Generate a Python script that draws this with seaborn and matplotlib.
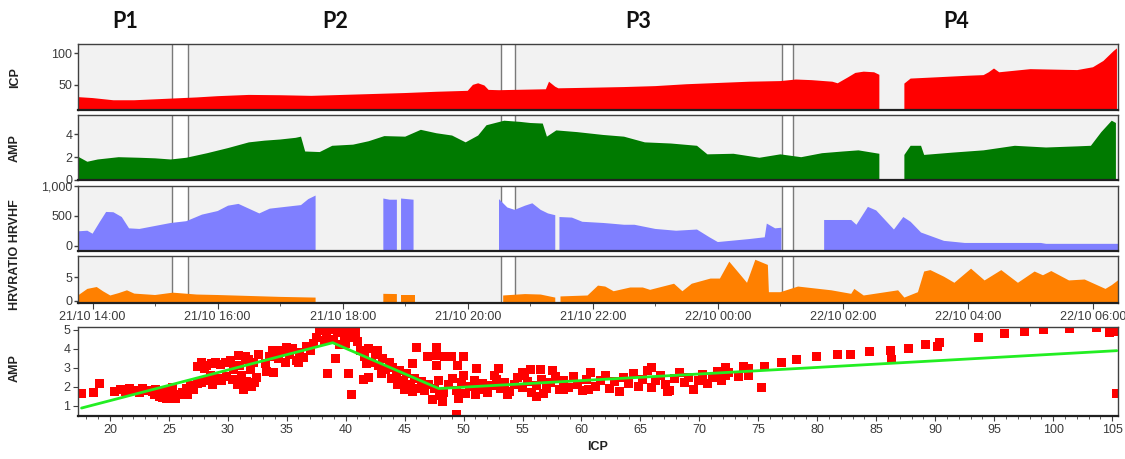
import matplotlib
matplotlib.use("Agg")
import matplotlib.pyplot as plt
import matplotlib.dates as mdates
import matplotlib.transforms as mtransforms
from matplotlib.ticker import FuncFormatter, MultipleLocator
import seaborn as sns
import numpy as np
import pandas as pd

# ---- period labels and marker pairs (time of day, dd/mm HH:MM) ----
period_names = ["P1", "P2", "P3", "P4"]
period_at = ["21/10 14:31", "21/10 17:53", "21/10 22:44", "22/10 03:49"]
mark_start = ["21/10 15:16", "21/10 20:32", "22/10 01:02"]
mark_end = ["21/10 15:32", "21/10 20:45", "22/10 01:12"]
time_range = ["21/10 13:46", "22/10 06:24"]

# ---- ICP ----
icp_time = ["21/10 13:46", "21/10 14:00", "21/10 14:20", "21/10 14:40", "21/10 15:00", "21/10 15:20",
            "21/10 15:40", "21/10 16:00", "21/10 16:30", "21/10 17:00", "21/10 17:30", "21/10 18:00",
            "21/10 18:30", "21/10 19:00", "21/10 19:30", "21/10 20:00", "21/10 20:05", "21/10 20:10",
            "21/10 20:16", "21/10 20:20", "21/10 20:30", "21/10 21:00", "21/10 21:15", "21/10 21:18",
            "21/10 21:24", "21/10 21:27", "21/10 22:00", "21/10 22:30", "21/10 23:00", "21/10 23:30",
            "22/10 00:00", "22/10 00:30", "22/10 01:00", "22/10 01:15", "22/10 01:30", "22/10 01:50",
            "22/10 01:55", "22/10 02:05", "22/10 02:12", "22/10 02:20", "22/10 02:30", "22/10 02:35",
            "22/10 02:36", "22/10 02:58", "22/10 02:59", "22/10 03:05", "22/10 03:30", "22/10 04:00",
            "22/10 04:15", "22/10 04:20", "22/10 04:25", "22/10 04:30", "22/10 05:00", "22/10 05:30",
            "22/10 05:45", "22/10 06:00", "22/10 06:10", "22/10 06:20", "22/10 06:23"]
icp_vals = [30.5, 29, 25.5, 25.5, 27, 28.5, 30, 32, 34, 33.5, 32.5, 34, 35.5, 37, 39, 40.5, 50, 52.5,
            49, 42, 41.5, 42.5, 43, 55, 47, 44.5, 45.5, 46.5, 48, 51, 53, 55, 56, 58.5, 57.5, 55,
            52.5, 62, 69, 71, 70, 66, None, None, 52, 60, 62, 64.5, 65.5, 70, 76, 70, 75, 74,
            73.5, 78, 88, 104, 108]

# ---- AMP ----
amp_time = ["21/10 13:46", "21/10 13:55", "21/10 14:05", "21/10 14:25", "21/10 14:45", "21/10 15:00",
            "21/10 15:15", "21/10 15:30", "21/10 15:50", "21/10 16:10", "21/10 16:30", "21/10 16:45",
            "21/10 17:00", "21/10 17:15", "21/10 17:20", "21/10 17:24", "21/10 17:38", "21/10 17:50",
            "21/10 18:10", "21/10 18:25", "21/10 18:40", "21/10 19:00", "21/10 19:15", "21/10 19:30",
            "21/10 19:45", "21/10 19:58", "21/10 20:10", "21/10 20:18", "21/10 20:35", "21/10 20:50",
            "21/10 21:00", "21/10 21:12", "21/10 21:16", "21/10 21:25", "21/10 21:45", "21/10 22:10",
            "21/10 22:30", "21/10 22:50", "21/10 23:15", "21/10 23:40", "21/10 23:50", "22/10 00:15",
            "22/10 00:40", "22/10 01:00", "22/10 01:20", "22/10 01:40", "22/10 02:00", "22/10 02:15",
            "22/10 02:35", "22/10 02:36", "22/10 02:58", "22/10 02:59", "22/10 03:05", "22/10 03:15",
            "22/10 03:18", "22/10 03:45", "22/10 04:15", "22/10 04:45", "22/10 05:15", "22/10 05:45",
            "22/10 05:58", "22/10 06:08", "22/10 06:18", "22/10 06:22"]
amp_vals = [2.05, 1.6, 1.8, 2.0, 1.95, 1.9, 1.8, 1.95, 2.35, 2.8, 3.3, 3.45, 3.55, 3.7, 3.8, 2.5,
            2.45, 3.0, 3.1, 3.4, 3.85, 3.8, 4.4, 4.1, 3.9, 3.3, 3.9, 4.8, 5.2, 5.1, 5.0, 4.95, 3.8,
            4.35, 4.2, 3.95, 3.8, 3.3, 3.2, 3.0, 2.25, 2.3, 1.95, 2.25, 2.0, 2.35, 2.5, 2.6, 2.3,
            None, None, 2.2, 3.0, 3.0, 2.2, 2.4, 2.6, 3.0, 2.85, 2.95, 3.0, 4.2, 5.2, 5.0]

# ---- HRVHF ----
hf_time = ["21/10 13:46", "21/10 13:55", "21/10 14:00", "21/10 14:07", "21/10 14:13", "21/10 14:20",
           "21/10 14:28", "21/10 14:35", "21/10 14:45", "21/10 15:00", "21/10 15:15", "21/10 15:30",
           "21/10 15:45", "21/10 16:00", "21/10 16:10", "21/10 16:20", "21/10 16:30", "21/10 16:40",
           "21/10 16:50", "21/10 17:05", "21/10 17:20", "21/10 17:27", "21/10 17:34", "21/10 18:00",
           "21/10 18:39", "21/10 18:45", "21/10 18:52", "21/10 18:54", "21/10 18:56", "21/10 19:08",
           "21/10 19:50", "21/10 20:30", "21/10 20:38", "21/10 20:45", "21/10 20:55", "21/10 21:02",
           "21/10 21:10", "21/10 21:17", "21/10 21:24", "21/10 21:26", "21/10 21:28", "21/10 21:40",
           "21/10 21:50", "21/10 22:10", "21/10 22:17", "21/10 22:30", "21/10 22:40", "21/10 23:00",
           "21/10 23:20", "21/10 23:40", "21/10 23:52", "22/10 00:00", "22/10 00:30", "22/10 00:45",
           "22/10 00:47", "22/10 00:55", "22/10 01:01", "22/10 01:20", "22/10 01:42", "22/10 02:08",
           "22/10 02:13", "22/10 02:24", "22/10 02:32", "22/10 02:49", "22/10 02:58", "22/10 03:05",
           "22/10 03:15", "22/10 03:37", "22/10 03:57", "22/10 05:10", "22/10 05:15", "22/10 06:24"]
hf_vals = [240, 250, 200, 400, 565, 560, 480, 290, 280, 330, 380, 410, 520, 580, 670, 700, 620, 540,
           620, 650, 680, 780, 840, None, 790, 770, 770, None, 790, 770, None, 780, 640, 600, 670, 710,
           600, 540, 510, None, 480, 470, 400, 380, 370, 350, 350, 280, 250, 270, 140, 60, 110, 140,
           370, 290, 300, None, 430, 430, 350, 650, 590, 270, 480, 400, 220, 80, 45, 45, 30, 30]

# ---- HRVRATIO ----
ratio_time = ["21/10 13:46", "21/10 13:55", "21/10 14:04", "21/10 14:10", "21/10 14:17", "21/10 14:25",
              "21/10 14:33", "21/10 14:40", "21/10 15:00", "21/10 15:17", "21/10 15:40", "21/10 16:00",
              "21/10 16:30", "21/10 17:00", "21/10 17:34", "21/10 18:00", "21/10 18:39", "21/10 18:52",
              "21/10 18:54", "21/10 18:56", "21/10 19:09", "21/10 19:50", "21/10 20:34", "21/10 20:55",
              "21/10 21:10", "21/10 21:24", "21/10 21:26", "21/10 21:29", "21/10 21:55", "21/10 22:05",
              "21/10 22:12", "21/10 22:20", "21/10 22:36", "21/10 22:48", "21/10 22:55", "21/10 23:18",
              "21/10 23:26", "21/10 23:35", "21/10 23:53", "22/10 00:02", "22/10 00:11", "22/10 00:22",
              "22/10 00:28", "22/10 00:36", "22/10 00:48", "22/10 00:49", "22/10 01:00", "22/10 01:17",
              "22/10 01:49", "22/10 02:08", "22/10 02:11", "22/10 02:20", "22/10 02:53", "22/10 02:59",
              "22/10 03:12", "22/10 03:18", "22/10 03:24", "22/10 03:37", "22/10 03:47", "22/10 04:03",
              "22/10 04:16", "22/10 04:32", "22/10 04:48", "22/10 05:04", "22/10 05:12", "22/10 05:20",
              "22/10 05:37", "22/10 05:52", "22/10 06:12", "22/10 06:18", "22/10 06:24"]
ratio_vals = [1.1, 2.5, 2.9, 2.0, 1.1, 1.6, 2.2, 1.5, 1.2, 1.7, 1.3, 1.2, 1.0, 0.8, 0.65, None, 1.45,
              1.4, None, 1.1, 1.1, None, 1.1, 1.4, 1.3, 0.65, None, 0.9, 1.1, 3.2, 3.0, 2.0, 2.8, 2.8,
              2.3, 3.6, 2.0, 3.6, 4.7, 4.7, 8.3, 5.4, 3.8, 8.7, 7.6, 1.8, 1.8, 3.0, 2.2, 1.45, 2.5,
              1.1, 2.2, 0.65, 1.8, 6.2, 6.5, 5.1, 3.8, 6.8, 4.3, 6.5, 3.8, 6.2, 5.4, 6.3, 4.3, 4.5,
              2.5, 3.3, 4.3]

# ---- AMP vs ICP scatter ----
scatter_icp = [17.6, 18.6, 19.1,
               20.4, 20.9, 21.3, 21.7, 22.1, 22.5, 22.8, 23.2, 23.6, 23.9,
               23.8, 24.2, 24.3, 24.5, 24.6, 24.8, 25.0, 25.1, 25.3, 25.4, 25.6, 25.9, 26.2,
               26.5, 26.6, 26.8, 27.1, 27.4,
               27.4, 27.8, 27.8, 28.0, 28.2, 28.3, 28.5, 28.6, 28.7, 29.0, 29.1, 29.4, 29.5, 29.8, 29.9,
               30.2, 30.4, 30.5, 30.8, 30.9, 31.0, 31.2, 31.3, 31.5, 31.6, 31.8, 31.9, 32.0, 32.2, 32.3, 32.4, 32.6,
               33.2, 33.3, 33.5, 33.8, 33.9,
               34.3, 34.6, 34.9, 35.0, 35.2, 35.5, 35.8, 36.0, 36.1, 36.4, 36.7, 37.0, 37.3,
               37.5, 37.8, 38.1, 38.2, 38.4, 38.5, 38.7, 39.0, 39.1, 39.3, 39.5, 39.6, 39.9, 40.0, 40.2, 40.2,
               40.5, 40.5, 40.8, 41.0,
               41.3, 41.5, 41.6, 41.8, 41.9, 41.9, 42.2, 42.5, 42.7, 42.8, 43.0, 43.1, 43.4, 43.7, 43.9,
               44.0, 44.3, 44.4, 44.6, 44.9, 45.0, 45.2, 45.5, 45.7, 45.7, 45.8, 46.0, 46.1, 46.4, 46.7, 46.9, 47.0,
               47.4, 47.5, 47.7, 47.7, 47.7, 47.9, 48.0, 48.2, 48.3, 48.4, 48.7, 49.0, 49.1, 49.4, 49.4, 49.5,
               49.6, 49.8, 50.0, 50.0, 50.2, 50.5, 50.9, 51.0, 51.1, 51.3, 51.6, 52.0, 52.4, 52.6, 52.8, 53.0,
               53.1, 53.5, 53.7, 53.9, 54.3, 54.6, 55.0, 55.0, 55.2, 55.4, 55.7, 55.8, 56.2, 56.2, 56.5, 56.6,
               56.8, 57.0, 57.4, 57.5, 57.8, 58.1,
               58.5, 58.5, 58.9, 59.3, 59.7, 60.1, 60.4, 60.6, 60.8, 61.2, 61.6, 62.0, 62.4, 62.8, 63.2, 63.6,
               64.0, 64.4, 64.8, 65.2, 65.6, 65.9, 65.9, 66.3, 66.7, 67.1, 67.3, 67.5, 67.9, 68.3, 68.7, 69.1,
               69.5, 69.9, 70.3, 70.7, 71.1, 71.5, 71.9, 72.2, 72.2, 72.5, 73.3, 73.7, 74.2, 74.2,
               75.3, 75.5, 77.0, 78.2, 79.9, 81.7, 82.8, 84.4, 86.2, 86.3, 87.7, 89.2, 90.2, 90.4, 93.7, 95.9,
               97.6, 97.6, 99.2, 101.4, 103.7, 104.8, 105.3, 105.4, 105.4]
scatter_amp = [1.62, 1.68, 2.15,
               1.72, 1.85, 1.75, 1.9, 1.8, 1.7, 1.88, 1.8, 1.72, 1.85,
               1.6, 1.5, 1.75, 1.42, 1.65, 1.35, 1.8, 1.45, 1.95, 1.55, 1.4, 1.6, 1.7,
               1.9, 1.6, 2.05, 1.85, 2.15,
               3.05, 3.25, 2.2, 2.95, 3.1, 2.35, 2.6, 3.2, 2.1, 3.3, 2.45, 3.15, 2.3, 3.25, 2.55,
               3.4, 2.4, 2.9, 2.1, 3.65, 3.1, 2.6, 1.85, 3.6, 2.25, 3.45, 2.9, 2.0, 3.3, 2.2, 2.5, 3.7,
               3.2, 2.8, 3.6, 3.9, 2.75,
               3.5, 3.9, 3.3, 4.05, 3.7, 4.0, 3.4, 3.25, 3.8, 3.55, 4.1, 3.9, 4.3,
               4.6, 4.95, 5.1, 4.45, 4.7, 2.7, 5.0, 4.5, 3.5, 4.85, 4.2, 5.1, 4.7, 4.3, 4.95, 2.7,
               4.6, 1.6, 4.85, 4.4,
               3.9, 2.4, 3.6, 3.2, 4.0, 2.5, 3.3, 3.7, 3.9, 3.1, 2.7, 3.5, 2.9, 3.3, 2.45,
               3.0, 2.6, 2.1, 2.85, 2.3, 1.85, 2.7, 2.1, 3.2, 1.75, 2.45, 4.05, 1.9, 2.25, 1.8, 3.6, 2.1,
               1.32, 1.9, 4.05, 3.65, 3.1, 2.3, 1.55, 1.23, 1.7, 3.6, 2.1, 3.6, 2.45, 1.8, 0.55, 3.1,
               1.35, 2.2, 3.6, 2.6, 1.65, 2.0, 2.35, 1.6, 2.95, 1.85, 2.15, 1.7, 2.05, 2.6, 2.4, 2.95,
               1.9, 2.2, 1.6, 1.75, 2.1, 2.5, 1.95, 2.75, 2.6, 2.25, 2.9, 1.7, 2.05, 1.5, 2.9, 2.4,
               1.65, 1.9, 2.2, 2.85, 2.55, 1.85,
               2.3, 1.85, 1.95, 2.55, 2.1, 1.8, 2.4, 1.85, 2.75, 2.0, 2.35, 2.6, 1.9, 2.25, 1.75, 2.5,
               2.15, 2.7, 2.0, 2.4, 2.85, 3.0, 1.95, 2.3, 2.6, 2.1, 1.75, 1.8, 2.45, 2.75, 2.2, 2.5,
               1.85, 2.35, 2.65, 2.15, 2.5, 2.8, 2.3, 3.0, 2.6, 2.75, 2.55, 3.05, 2.95, 2.6,
               1.93, 3.07, 3.28, 3.42, 3.6, 3.72, 3.72, 3.86, 3.91, 3.45, 4.03, 4.2, 4.1, 4.33, 4.6, 4.8,
               4.9, 5.0, 5.0, 5.05, 5.1, 4.85, 4.9, 5.1, 1.63]

# piecewise fit line
fit_icp = [17.6, 38.9, 47.9, 105.4]
fit_amp = [0.87, 4.32, 1.9, 3.9]


def to_num(times):
    return mdates.date2num(pd.to_datetime(["2020/" + s for s in times], format="%Y/%d/%m %H:%M"))


sns.set_style("ticks")
plt.rcParams["font.family"] = ["Liberation Sans", "DejaVu Sans"]

W, H = 1125, 459
fig = plt.figure(figsize=(W / 100, H / 100), dpi=100)


def px_box(top, bottom, left=78, right=1118):
    return [left / W, 1 - bottom / H, (right - left) / W, (bottom - top) / H]


ax_icp = fig.add_axes(px_box(44, 110))
ax_amp = fig.add_axes(px_box(115, 180))
ax_hf = fig.add_axes(px_box(186, 251))
ax_ratio = fig.add_axes(px_box(256, 303))
ax_sc = fig.add_axes(px_box(327, 416))

tick_col = "#3a3a3a"
spine_col = "#404040"

panels = [
    (ax_icp, icp_time, icp_vals, "#ff0000", (10, 115), [50, 100]),
    (ax_amp, amp_time, amp_vals, "#007a00", (0, 5.7), [0, 2, 4]),
    (ax_hf, hf_time, hf_vals, "#7f7fff", (-90, 1000), [0, 500, 1000]),
    (ax_ratio, ratio_time, ratio_vals, "#ff8000", (-0.5, 9.5), [0, 5]),
]
x0, x1 = to_num(time_range)
for ax, t, v, col, ylim, yt in panels:
    ax.set_facecolor("#f2f2f2")
    for a, b in zip(to_num(mark_start), to_num(mark_end)):
        ax.axvspan(a, b, color="white", lw=0, zorder=0.5)
        ax.axvline(a, color="#7a7a7a", lw=1, zorder=0.6)
        ax.axvline(b, color="#7a7a7a", lw=1, zorder=0.6)
    ax.fill_between(to_num(t), np.array(v, dtype=float), ylim[0], color=col, lw=0, zorder=2)
    ax.set_xlim(x0, x1)
    ax.set_ylim(*ylim)
    ax.set_yticks(yt)
    ax.tick_params(axis="y", labelsize=9, labelcolor=tick_col, color=spine_col,
                   length=3, width=1, pad=1)
    ax.tick_params(axis="x", bottom=False, labelbottom=False)
    for s in ax.spines.values():
        s.set_color(spine_col)
        s.set_linewidth(1)
    ax.spines["bottom"].set_linewidth(1.6)
    ax.spines["bottom"].set_color("#202020")

ax_hf.yaxis.set_major_formatter(FuncFormatter(lambda v, p: f"{v:,.0f}"))

ax_ratio.xaxis.set_major_locator(mdates.HourLocator(byhour=range(0, 24, 2)))
ax_ratio.xaxis.set_minor_locator(mdates.HourLocator())
ax_ratio.xaxis.set_major_formatter(mdates.DateFormatter("%d/%m %H:%M"))
ax_ratio.tick_params(axis="x", which="major", bottom=True, labelbottom=True, labelsize=9,
                     labelcolor=tick_col, color=spine_col, length=4, pad=2)
ax_ratio.tick_params(axis="x", which="minor", bottom=True, color=spine_col, length=2.5)

# period labels above the top panel
trans = mtransforms.blended_transform_factory(ax_icp.transData, fig.transFigure)
for name, t in zip(period_names, to_num(period_at)):
    ax_icp.text(t, 1 - 22 / H, name, transform=trans, ha="center", va="center",
                fontsize=15.5, fontweight="bold", family=["Lato", "DejaVu Sans"], color="#111111")

# scatter panel
ax_sc.set_facecolor("white")
sns.scatterplot(x=scatter_icp, y=scatter_amp, marker="s", s=42, color="#ff0000",
                edgecolor="none", linewidth=0, ax=ax_sc, zorder=2)
sns.lineplot(x=fit_icp, y=fit_amp, sort=False, estimator=None, color="#22ee22",
             lw=2, ax=ax_sc, zorder=3)
ax_sc.set_xlim(17.3, 105.5)
ax_sc.set_ylim(0.45, 5.15)
ax_sc.xaxis.set_major_locator(MultipleLocator(5))
ax_sc.xaxis.set_minor_locator(MultipleLocator(1))
ax_sc.set_yticks([1, 2, 3, 4, 5])
ax_sc.tick_params(axis="both", which="major", labelsize=9, labelcolor=tick_col,
                  color=spine_col, length=3.5, pad=2)
ax_sc.tick_params(axis="x", which="minor", color=spine_col, length=2)
for s in ax_sc.spines.values():
    s.set_color(spine_col)
    s.set_linewidth(1)
ax_sc.spines["bottom"].set_linewidth(1.6)
ax_sc.spines["bottom"].set_color("#202020")
ax_sc.set_xlabel("ICP", fontsize=9, fontweight="bold", color="#222222", labelpad=4)
ax_sc.set_ylabel("")

# rotated y labels at the left edge
for label, yc in [("ICP", 78), ("AMP", 148), ("HRVRATIO HRVHF", 255), ("AMP", 368)]:
    fig.text(15 / W, 1 - yc / H, label, rotation=90, ha="center", va="center",
             fontsize=9, fontweight="bold", color="#222222")

fig.savefig("out.png", dpi=100)
